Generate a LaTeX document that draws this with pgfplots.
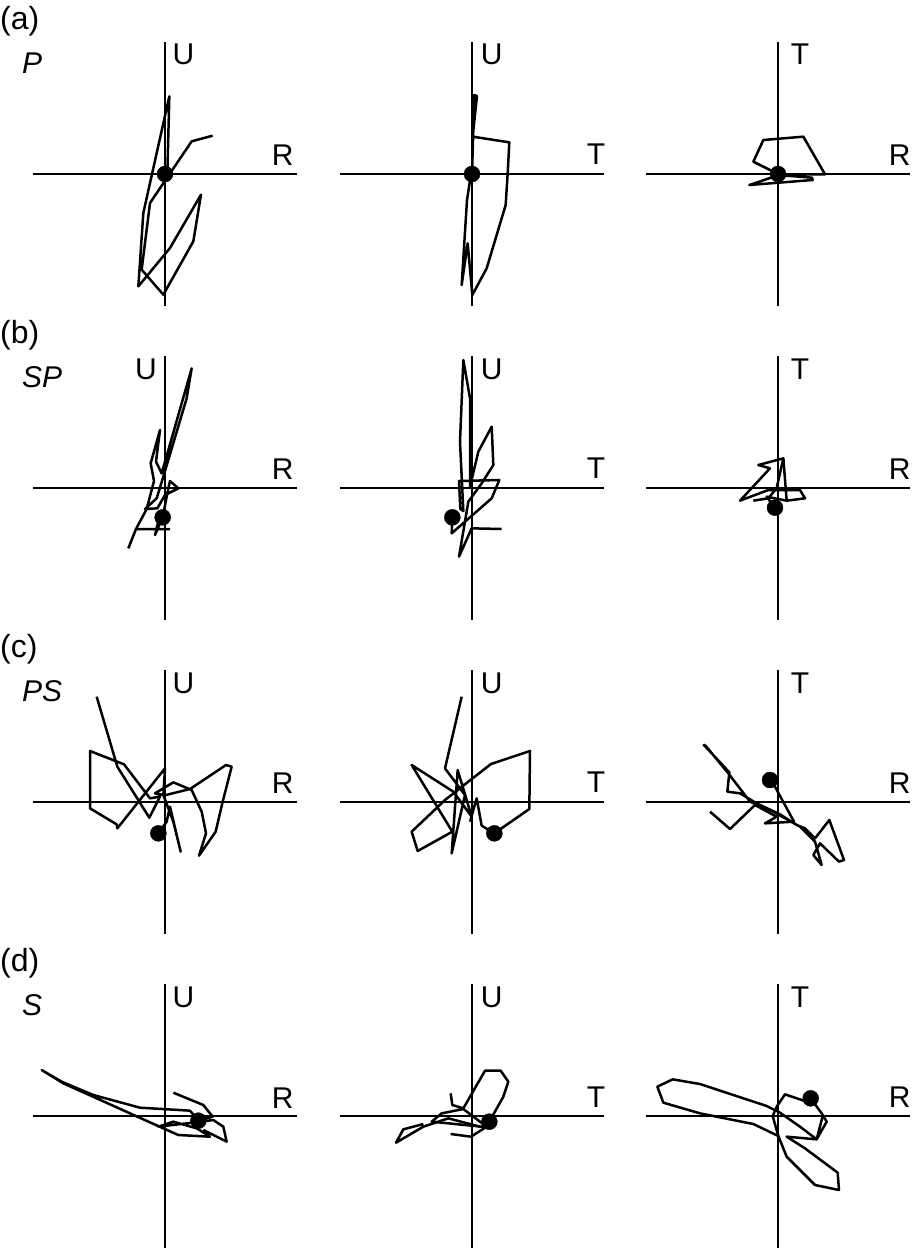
\documentclass[border=0pt]{standalone}
\usepackage{fontspec}
\setmainfont{Liberation Sans}
\usepackage{pgfplots}
\pgfplotsset{compat=1.18}
\begin{document}
\begin{tikzpicture}[x=1pt,y=1pt]
\useasboundingbox (0pt,0pt) rectangle (913pt,-1250pt);
\pgfplotsset{
 panel/.style={hide axis, x=0.33333pt, y=0.33333pt, xmin=-396, xmax=396, ymin=-396, ymax=396, clip=false, anchor=center},
 trace/.style={black, line width=2.5pt, line join=round, mark=none},
 dot/.style={only marks, mark=*, mark size=8pt, black},
 ax/.style={black, line width=1.9pt, mark=none},
}
\tikzset{lab/.style={font=\fontsize{30}{34}\selectfont, inner sep=0pt},
 plab/.style={font=\fontsize{32}{36}\selectfont, inner sep=0pt}}
% panel letters
\node[plab, anchor=base west] at (0pt,-29pt) {(a)};
\node[lab, anchor=base west] at (22pt,-73pt) {\itshape P};
\node[plab, anchor=base west] at (0pt,-343pt) {(b)};
\node[lab, anchor=base west] at (22pt,-387pt) {\itshape SP};
\node[plab, anchor=base west] at (0pt,-657pt) {(c)};
\node[lab, anchor=base west] at (22pt,-701pt) {\itshape PS};
\node[plab, anchor=base west] at (0pt,-971pt) {(d)};
\node[lab, anchor=base west] at (22pt,-1015pt) {\itshape S};

% ---------------- row a
\begin{axis}[panel, at={(165pt,-174pt)}]
\addplot[ax] coordinates {(-396,0) (396,0)};
\addplot[ax] coordinates {(0,-396) (0,396)};
\addplot[trace] coordinates {(7,3) (13,233) (-65,-117) (-80,-337) (15,-222) (108,-62) (85,-202) (-5,-362) (-70,-287) (-45,-87) (80,98) (143,115)};
\addplot[dot] coordinates {(0,0)};
\node[lab, anchor=west] at (axis cs:22,360) {U};
\node[lab, anchor=east] at (axis cs:386,55) {R};
\end{axis}
\begin{axis}[panel, at={(472pt,-174pt)}]
\addplot[ax] coordinates {(-396,0) (396,0)};
\addplot[ax] coordinates {(0,-396) (0,396)};
\addplot[trace] coordinates {(0,0) (7,237) (15,234) (2,112) (112,95) (107,2) (101,-93) (44,-283) (1,-363) (-13,-208) (-31,-333) (-15,-78) (-3,0)};
\addplot[dot] coordinates {(0,0)};
\node[lab, anchor=west] at (axis cs:26,360) {U};
\node[lab, anchor=east] at (axis cs:400,58) {T};
\end{axis}
\begin{axis}[panel, at={(778pt,-174pt)}]
\addplot[ax] coordinates {(-396,0) (396,0)};
\addplot[ax] coordinates {(0,-396) (0,396)};
\addplot[trace] coordinates {(0,0) (-74,37) (-44,102) (76,112) (141,-1) (6,-2) (-86,-33) (104,-18) (102,-11) (0,-3)};
\addplot[dot] coordinates {(0,0)};
\node[lab, anchor=west] at (axis cs:38,360) {T};
\node[lab, anchor=east] at (axis cs:398,56) {R};
\end{axis}

% ---------------- row b
\begin{axis}[panel, at={(165pt,-488pt)}]
\addplot[ax] coordinates {(-396,0) (396,0)};
\addplot[ax] coordinates {(0,-396) (0,396)};
\addplot[trace] coordinates {(-110,-181) (-87,-123) (15,-123)};
\addplot[trace] coordinates {(-7,-88) (-30,-141) (-20,-100)};
\addplot[trace] coordinates {(-87,-123) (-55,-63) (-33,21) (-43,74) (-15,174) (-27,79) (-10,44) (80,359) (65,269) (-5,34) (-25,-31) (-60,-63) (-23,-61) (0,-21) (40,-1) (15,21) (10,-1) (-7,-88)};
\addplot[dot] coordinates {(-7,-88)};
\node[lab, anchor=east] at (axis cs:-24,357) {U};
\node[lab, anchor=east] at (axis cs:386,55) {R};
\end{axis}
\begin{axis}[panel, at={(472pt,-488pt)}]
\addplot[ax] coordinates {(-396,0) (396,0)};
\addplot[ax] coordinates {(0,-396) (0,396)};
\addplot[trace] coordinates {(-59,-88) (-61,-136) (59,-31) (82,24) (-39,21) (-35,-63) (-26,-69) (-36,139) (-26,384) (-6,269) (-6,4) (19,109) (59,184) (64,69) (29,14) (-11,-41) (-39,-206) (-1,-121) (89,-123)};
\addplot[dot] coordinates {(-59,-88)};
\node[lab, anchor=west] at (axis cs:26,357) {U};
\node[lab, anchor=east] at (axis cs:400,58) {T};
\end{axis}
\begin{axis}[panel, at={(778pt,-488pt)}]
\addplot[ax] coordinates {(-396,0) (396,0)};
\addplot[ax] coordinates {(0,-396) (0,396)};
\addplot[trace] coordinates {(-9,-59) (-34,-26) (26,-38) (81,-31) (66,-6) (-29,-6) (-114,-38) (-24,59) (-59,69) (16,89) (26,-38)};
\addplot[trace] coordinates {(16,89) (-4,0) (-29,-31) (-74,-38)};
\addplot[dot] coordinates {(-9,-59)};
\node[lab, anchor=west] at (axis cs:38,357) {T};
\node[lab, anchor=east] at (axis cs:398,56) {R};
\end{axis}

% ---------------- row c
\begin{axis}[panel, at={(165pt,-802pt)}]
\addplot[ax] coordinates {(-396,0) (396,0)};
\addplot[ax] coordinates {(0,-396) (0,396)};
\addplot[trace] coordinates {(-20,-94) (5,-59) (15,-14) (47,-149) (25,-59) (-5,21) (-30,26) (25,59) (80,36) (110,-29) (123,-94) (102,-161) (152,-89) (173,1) (200,106) (183,111) (75,39) (-5,19) (0,101) (-143,-79) (-145,-67) (-225,-19) (-225,153) (-123,113) (-45,11) (-15,16) (-47,-47) (-143,106) (-205,316)};
\addplot[dot] coordinates {(-20,-94)};
\node[lab, anchor=west] at (axis cs:22,357) {U};
\node[lab, anchor=east] at (axis cs:386,55) {R};
\end{axis}
\begin{axis}[panel, at={(472pt,-802pt)}]
\addplot[ax] coordinates {(-396,0) (396,0)};
\addplot[ax] coordinates {(0,-396) (0,396)};
\addplot[trace] coordinates {(67,-94) (172,-21) (174,153) (57,114) (-11,61) (-81,6) (-181,-89) (-163,-147) (-59,-89) (-181,111) (-56,31) (-1,-44) (-43,96) (-61,-154) (-21,21) (-81,101) (-31,316)};
\addplot[trace] coordinates {(67,-94) (29,-71) (14,11) (-6,-59)};
\addplot[dot] coordinates {(67,-94)};
\node[lab, anchor=west] at (axis cs:26,357) {U};
\node[lab, anchor=east] at (axis cs:400,58) {T};
\end{axis}
\begin{axis}[panel, at={(778pt,-802pt)}]
\addplot[ax] coordinates {(-396,0) (396,0)};
\addplot[ax] coordinates {(0,-396) (0,396)};
\addplot[trace] coordinates {(-224,173) (-146,89) (-152,31) (-114,26) (-64,-4) (6,-37) (56,-69) (81,-79) (111,-109) (154,-54) (198,-174) (183,-179) (126,-124) (106,-159) (131,-189) (111,-119) (66,-74) (-14,-29) (-84,1) (-149,86) (-219,171)};
\addplot[trace] coordinates {(-24,66) (-9,46) (48,-59) (-39,-64) (-4,-44) (-69,-9) (-144,-81) (-204,-29)};
\addplot[dot] coordinates {(-24,66)};
\node[lab, anchor=west] at (axis cs:38,357) {T};
\node[lab, anchor=east] at (axis cs:398,56) {R};
\end{axis}

% ---------------- row d
\begin{axis}[panel, at={(165pt,-1116pt)}]
\addplot[ax] coordinates {(-396,0) (396,0)};
\addplot[ax] coordinates {(0,-396) (0,396)};
\addplot[trace] coordinates {(100,-14) (143,-2) (115,33) (25,70)};
\addplot[trace] coordinates {(100,-14) (75,16) (-75,25) (-215,63) (-310,103) (-370,138) (-305,98) (-105,8) (-5,-37) (40,-57) (135,-62) (95,-37) (25,-17) (-20,-32) (65,-22) (145,-12) (175,-32) (185,-77) (115,-42)};
\addplot[dot] coordinates {(100,-14)};
\node[lab, anchor=west] at (axis cs:22,357) {U};
\node[lab, anchor=east] at (axis cs:386,55) {R};
\end{axis}
\begin{axis}[panel, at={(472pt,-1116pt)}]
\addplot[ax] coordinates {(-396,0) (396,0)};
\addplot[ax] coordinates {(0,-396) (0,396)};
\addplot[trace] coordinates {(-64,68) (-59,33) (-26,23) (39,136) (86,136) (109,103) (94,58) (52,-17) (29,-32) (-121,-17) (-91,8) (-26,21) (44,-32) (-3,-62) (-64,-54)};
\addplot[trace] coordinates {(-146,-24) (-206,-40) (-228,-80) (-146,-32) (-71,-7) (24,-32)};
\addplot[dot] coordinates {(52,-17)};
\node[lab, anchor=west] at (axis cs:26,357) {U};
\node[lab, anchor=east] at (axis cs:400,58) {T};
\end{axis}
\begin{axis}[panel, at={(778pt,-1116pt)}]
\addplot[ax] coordinates {(-396,0) (396,0)};
\addplot[ax] coordinates {(0,-396) (0,396)};
\addplot[trace] coordinates {(98,53) (131,8) (146,-17) (116,-70) (26,-62) (81,-97) (179,-170) (183,-222) (111,-207) (26,-122) (1,-60) (-74,-24) (-234,8) (-344,40) (-362,88) (-316,110) (-234,96) (-34,30) (6,10) (66,-32) (116,-70) (134,0)};
\addplot[trace] coordinates {(98,53) (86,43) (21,65) (-4,28) (-16,0) (1,-60)};
\addplot[dot] coordinates {(98,53)};
\node[lab, anchor=west] at (axis cs:38,357) {T};
\node[lab, anchor=east] at (axis cs:398,56) {R};
\end{axis}
\end{tikzpicture}
\end{document}
